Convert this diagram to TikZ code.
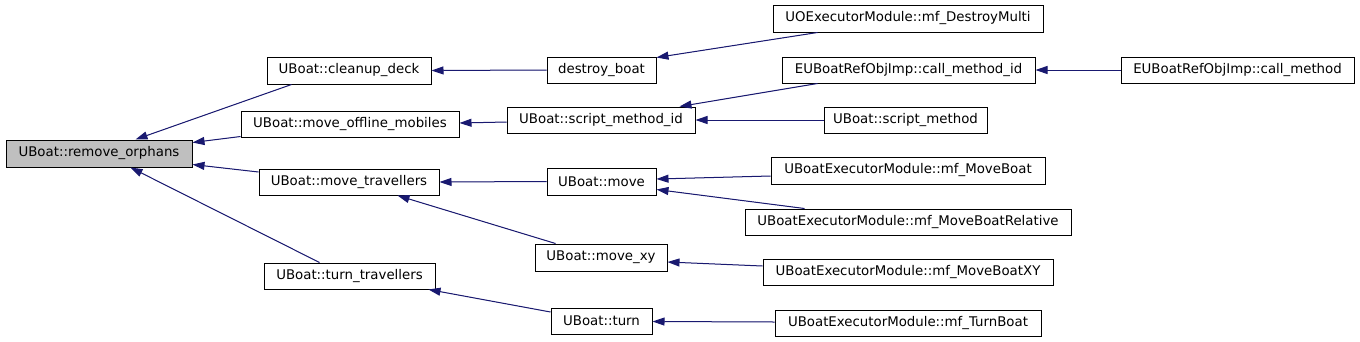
\documentclass[tikz,border=0pt]{standalone}
\usepackage{fontspec}
\setmainfont{DejaVu Sans}
\usetikzlibrary{arrows.meta}
\definecolor{edgeblue}{HTML}{191970}
\definecolor{rootgray}{HTML}{BFBFBF}
\tikzset{
  fn/.style={draw=black, line width=1pt, fill=white, inner sep=0pt, minimum height=26pt,
    font=\fontsize{13.33}{16}\selectfont, text=black},
  rootfn/.style={fn, fill=rootgray},
  call/.style={draw=edgeblue, line width=1pt, -{Triangle[length=12pt,width=8pt]}, fill=edgeblue}
}
\begin{document}
\begin{tikzpicture}[x=1pt,y=-1pt]
\useasboundingbox (0,0) rectangle (1360,341);
\fill[white] (0,0) rectangle (1360,341);
% column 0
\node[rootfn, minimum width=186pt, minimum height=27pt] (ro) at (99,153.5) {UBoat::remove\_orphans};
% column 1
\node[fn, minimum width=164pt, minimum height=27pt] (cd) at (349,70.5) {UBoat::cleanup\_deck};
\node[fn, minimum width=218pt] (mom) at (350,124) {UBoat::move\_offline\_mobiles};
\node[fn, minimum width=180pt] (mt) at (349,182) {UBoat::move\_travellers};
\node[fn, minimum width=171pt] (tt) at (349.5,276) {UBoat::turn\_travellers};
% column 2
\node[fn, minimum width=109pt] (db) at (601.5,70) {destroy\_boat};
\node[fn, minimum width=188pt] (smi) at (601,120) {UBoat::script\_method\_id};
\node[fn, minimum width=109pt, minimum height=27pt] (mv) at (601.5,181.5) {UBoat::move};
\node[fn, minimum width=132pt, minimum height=27pt] (mxy) at (601,257.5) {UBoat::move\_xy};
\node[fn, minimum width=101pt] (tn) at (601.5,321) {UBoat::turn};
% column 3
\node[fn, minimum width=270pt, minimum height=27pt] (dm) at (908,18.5) {UOExecutorModule::mf\_DestroyMulti};
\node[fn, minimum width=253pt] (cmi) at (908.5,70) {EUBoatRefObjImp::call\_method\_id};
\node[fn, minimum width=163pt] (sm) at (905.5,120) {UBoat::script\_method};
\node[fn, minimum width=274pt, minimum height=27pt] (mb) at (908,170.5) {UBoatExecutorModule::mf\_MoveBoat};
\node[fn, minimum width=326pt] (mbr) at (908,222) {UBoatExecutorModule::mf\_MoveBoatRelative};
\node[fn, minimum width=290pt] (mbxy) at (908,272) {UBoatExecutorModule::mf\_MoveBoatXY};
\node[fn, minimum width=266pt] (tb) at (908,323) {UBoatExecutorModule::mf\_TurnBoat};
% column 4
\node[fn, minimum width=233pt] (cm) at (1237.5,70) {EUBoatRefObjImp::call\_method};
% edges
\draw[call] ([xshift=25pt]cd.south west) -- ([xshift=130pt]ro.north west);
\draw[call] ([yshift=1pt]mom.south west) -- ([yshift=-3pt]ro.north east);
\draw[call] ([yshift=10pt]mt.west) -- ([yshift=3pt]ro.south east);
\draw[call] ([xshift=56pt]tt.north west) -- ([xshift=125pt]ro.south west);
\draw[call] (db.west) -- (cd.east);
\draw[call] ([yshift=-2pt]smi.west) -- ([yshift=1pt]mom.east);
\draw[call] (mv.west) -- (mt.east);
\draw[call] ([xshift=21pt]mxy.north west) -- ([xshift=139pt]mt.south west);
\draw[call] ([yshift=9pt]tn.west) -- ([xshift=-7pt]tt.south east);
\draw[call] ([xshift=45pt]dm.south west) -- ([yshift=-1pt]db.north east);
\draw[call] ([xshift=36pt]cmi.south west) -- ([xshift=-16pt]smi.north east);
\draw[call] (sm.west) -- (smi.east);
\draw[call] (cm.west) -- (cmi.east);
\draw[call] ([yshift=-5.5pt]mb.west) -- ([yshift=2.5pt]mv.east);
\draw[call] ([xshift=60pt]mbr.north west) -- ([yshift=6pt]mv.south east);
\draw[call] ([yshift=6pt]mbxy.west) -- ([yshift=-4.5pt]mxy.east);
\draw[call] ([yshift=1pt]tb.west) -- ([yshift=-0.5pt]tn.east);
\end{tikzpicture}
\end{document}
